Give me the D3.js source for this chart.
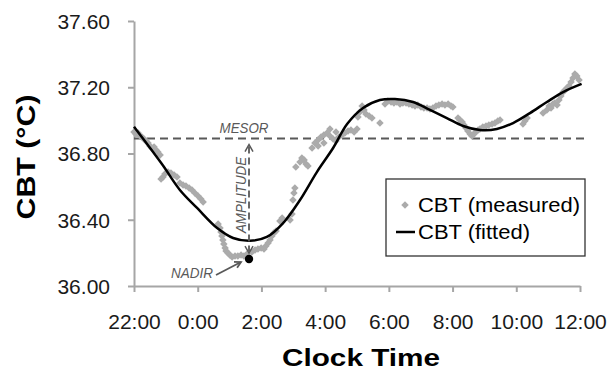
<!DOCTYPE html>
<html><head><meta charset="utf-8">
<script src="https://cdn.jsdelivr.net/npm/d3@7"></script>
<style>
html,body{margin:0;padding:0;background:#fff;}
text{font-family:"Liberation Sans",Arial,sans-serif;}
</style></head>
<body>
<svg id="chart" width="610" height="370"></svg>
<script>
// ---- data ----
const xTickValues = [22, 24, 26, 28, 30, 32, 34, 36];
const xTickLabels = ["22:00", "0:00", "2:00", "4:00", "6:00", "8:00", "10:00", "12:00"];
const yTickValues = [36.0, 36.4, 36.8, 37.2, 37.6];

const measuredTime = [22.00,22.06,22.13,22.19,22.25,22.31,22.38,22.44,22.50,22.56,22.63,22.69,22.75,22.82,
 22.85,22.91,22.97,23.07,23.16,23.26,23.35,23.44,23.54,23.63,23.73,23.82,23.91,24.01,24.10,24.17,
 24.64,24.70,24.73,24.76,24.79,24.82,24.86,24.89,24.95,25.01,25.08,25.17,25.26,25.36,25.45,25.55,
 25.70,25.80,25.89,25.99,26.08,26.14,26.21,26.27,26.33,26.39,26.46,26.58,26.65,26.90,26.96,26.99,27.02,27.05,
 27.08,27.21,27.27,27.34,27.40,27.46,27.59,27.68,27.78,27.87,27.96,28.06,28.15,28.25,28.34,28.43,28.53,28.62,
 28.72,28.81,28.91,29.00,27.78,27.96,28.15,28.34,
 29.03,29.09,29.16,29.22,29.28,29.38,29.47,29.72,
 29.88,29.97,30.07,30.16,30.25,30.35,30.44,30.54,30.63,30.73,30.82,30.91,31.01,31.10,31.20,31.29,31.38,31.48,
 31.57,31.67,31.76,31.86,31.95,32.01,
 32.17,32.23,32.30,32.36,32.42,32.48,32.55,32.61,32.67,32.73,32.80,32.86,32.95,33.05,33.14,33.24,33.33,33.42,33.49,
 34.21,34.27,34.34,34.84,34.96,35.03,35.09,35.15,35.21,35.28,35.34,35.40,35.47,35.53,35.59,35.65,35.72,35.78,35.84,35.90,35.97];
const measuredCBT = [36.930,36.918,36.924,36.906,36.900,36.888,36.875,36.863,36.845,36.833,36.839,36.821,36.809,36.791,
 36.646,36.658,36.676,36.688,36.682,36.670,36.658,36.622,36.610,36.604,36.592,36.580,36.561,36.543,36.525,36.507,
 36.374,36.350,36.326,36.302,36.278,36.254,36.229,36.211,36.199,36.187,36.175,36.181,36.181,36.187,36.181,36.193,
 36.205,36.217,36.223,36.229,36.223,36.241,36.260,36.278,36.302,36.320,36.332,36.392,36.411,36.398,36.435,36.519,36.561,36.592,
 36.718,36.749,36.773,36.761,36.737,36.725,36.833,36.863,36.881,36.900,36.912,36.924,36.906,36.888,36.875,36.900,36.912,36.924,
 36.936,36.942,36.930,36.948,36.845,36.863,36.948,36.930,
 37.020,37.051,37.087,37.063,37.038,37.026,37.014,36.984,
 37.099,37.117,37.111,37.105,37.111,37.099,37.105,37.105,37.099,37.093,37.087,37.093,37.081,37.075,37.075,37.069,37.075,37.087,
 37.093,37.099,37.093,37.099,37.087,37.081,
 37.014,37.002,36.990,36.972,36.954,36.936,36.918,36.906,36.918,36.930,36.942,36.948,36.960,36.966,36.972,36.978,36.984,36.996,37.002,
 36.978,36.996,37.014,37.044,37.063,37.087,37.075,37.099,37.105,37.093,37.123,37.147,37.171,37.183,37.196,37.208,37.232,37.256,37.280,37.268,37.244];

const fittedTime = [22.00,22.41,22.91,23.44,23.98,24.61,25.11,25.64,26.17,26.68,27.21,27.74,28.25,28.69,29.19,29.72,
 30.19,30.76,31.29,31.82,32.33,32.86,33.39,33.90,34.43,34.96,35.47,36.05];
const fittedCBT = [36.962,36.857,36.727,36.580,36.471,36.350,36.290,36.273,36.296,36.380,36.519,36.688,36.833,36.978,37.075,37.123,
 37.129,37.111,37.063,37.014,36.966,36.942,36.948,36.984,37.044,37.111,37.171,37.220];

const mesorValue = 36.89;
const nadirTime = 25.61;
const nadirValue = 36.163;

const seriesNames = ["CBT (measured)", "CBT (fitted)"];

// ---- chart ----
const svg = d3.select("#chart");
const x = d3.scaleLinear().domain([22, 36]).range([134, 580]);
const y = d3.scaleLinear().domain([36.0, 37.6]).range([286, 21]);
const axisColor = "#a6a6a6";
const annColor = "#595959";

// axes
const yAxis = svg.append("g").attr("transform", "translate(134,0)")
  .call(d3.axisLeft(y).tickValues(yTickValues).tickSize(6).tickSizeOuter(0).tickPadding(18).tickFormat(d3.format(".2f")));
const xAxis = svg.append("g").attr("transform", "translate(0,286)")
  .call(d3.axisBottom(x).tickValues(xTickValues).tickSize(6).tickSizeOuter(0).tickPadding(22)
    .tickFormat((d, i) => xTickLabels[i]));
[yAxis, xAxis].forEach(g => {
  g.select(".domain").attr("stroke", axisColor).attr("stroke-width", 2);
  g.selectAll(".tick line").attr("stroke", axisColor).attr("stroke-width", 2);
  g.selectAll(".tick text").attr("fill", "#1a1a1a").style("font-size", "21px")
    .style("font-family", "'Liberation Sans', Arial, sans-serif");
});
yAxis.selectAll(".tick text").attr("dy", "0.35em");
xAxis.selectAll(".tick text").attr("dy", "0.71em");

// mesor line
svg.append("line")
  .attr("x1", x(22)).attr("x2", 588).attr("y1", y(mesorValue)).attr("y2", y(mesorValue))
  .attr("stroke", annColor).attr("stroke-width", 2).attr("stroke-dasharray", "8,5");

// measured points
const measured = measuredTime.map((t, i) => [t, measuredCBT[i]]);
const sq = d3.symbol().type(d3.symbolSquare).size(28);
svg.append("g").selectAll("path").data(measured).join("path")
  .attr("d", sq)
  .attr("transform", d => `translate(${x(d[0])},${y(d[1])}) rotate(45)`)
  .attr("fill", "#ababab");

// fitted line
const fitted = fittedTime.map((t, i) => [t, fittedCBT[i]]);
svg.append("path").datum(fitted)
  .attr("d", d3.line().x(d => x(d[0])).y(d => y(d[1])).curve(d3.curveCatmullRom.alpha(0.5)))
  .attr("fill", "none").attr("stroke", "#000").attr("stroke-width", 2.5);

// amplitude arrow
const ax = x(nadirTime);
const topY = y(mesorValue) + 6, botY = y(nadirValue) - 6;
svg.append("line").attr("x1", ax).attr("x2", ax).attr("y1", topY + 2).attr("y2", botY - 2)
  .attr("stroke", annColor).attr("stroke-width", 1.8).attr("stroke-dasharray", "7,4");
svg.append("path").attr("d", `M${ax-4},${topY+7}L${ax},${topY}L${ax+4},${topY+7}`)
  .attr("fill", "none").attr("stroke", annColor).attr("stroke-width", 1.5);
svg.append("path").attr("d", `M${ax-4},${botY-7}L${ax},${botY}L${ax+4},${botY-7}`)
  .attr("fill", "none").attr("stroke", annColor).attr("stroke-width", 1.5);

// nadir dot
svg.append("circle").attr("cx", x(nadirTime)).attr("cy", y(nadirValue)).attr("r", 4.2).attr("fill", "#000");

// labels
svg.append("text").attr("x", 244).attr("y", y(mesorValue) - 6).attr("text-anchor", "middle")
  .attr("textLength", 49).attr("lengthAdjust", "spacingAndGlyphs")
  .style("font-size", "14px").style("font-style", "italic").attr("fill", annColor).text("MESOR");
svg.append("text").attr("transform", `translate(${ax - 3.5},195) rotate(-90)`).attr("text-anchor", "middle")
  .attr("textLength", 76).attr("lengthAdjust", "spacingAndGlyphs")
  .style("font-size", "14px").style("font-style", "italic").attr("fill", annColor).text("AMPLITUDE");
svg.append("text").attr("x", 213).attr("y", 278).attr("text-anchor", "end")
  .attr("textLength", 42).attr("lengthAdjust", "spacingAndGlyphs")
  .style("font-size", "14px").style("font-style", "italic").attr("fill", annColor).text("NADIR");
// nadir arrow
const n1 = [216, 275], n2 = [x(nadirTime) - 8, y(nadirValue) + 3];
svg.append("line").attr("x1", n1[0]).attr("y1", n1[1]).attr("x2", n2[0]).attr("y2", n2[1])
  .attr("stroke", annColor).attr("stroke-width", 1.8);
{
  const ang = Math.atan2(n2[1] - n1[1], n2[0] - n1[0]);
  const L = 7, w = 0.5;
  const p1 = [n2[0] - L * Math.cos(ang - w), n2[1] - L * Math.sin(ang - w)];
  const p2 = [n2[0] - L * Math.cos(ang + w), n2[1] - L * Math.sin(ang + w)];
  svg.append("path").attr("d", `M${p1}L${n2}L${p2}`).attr("fill", "none").attr("stroke", annColor).attr("stroke-width", 1.8);
}

// axis titles
svg.append("text").attr("x", 361).attr("y", 366).attr("text-anchor", "middle")
  .attr("textLength", 158).attr("lengthAdjust", "spacingAndGlyphs")
  .style("font-size", "24px").style("font-weight", "bold").attr("fill", "#000").text("Clock Time");
svg.append("text").attr("transform", "translate(35,157) rotate(-90)").attr("text-anchor", "middle")
  .attr("textLength", 125).attr("lengthAdjust", "spacingAndGlyphs")
  .style("font-size", "25px").style("font-weight", "bold").attr("fill", "#000").text("CBT (°C)");

// legend
const lg = svg.append("g");
lg.append("rect").attr("x", 386).attr("y", 179).attr("width", 199).attr("height", 77)
  .attr("fill", "#fff").attr("stroke", "#333").attr("stroke-width", 1.3);
lg.append("path").attr("d", sq).attr("transform", "translate(405,205) rotate(45)").attr("fill", "#ababab");
lg.append("line").attr("x1", 396).attr("x2", 415).attr("y1", 232).attr("y2", 232).attr("stroke", "#000").attr("stroke-width", 2.5);
const legendLens = [162, 112];
seriesNames.forEach((s, i) => {
  lg.append("text").attr("x", 418).attr("y", 205 + i * 27).attr("dy", "0.35em")
    .attr("textLength", legendLens[i]).attr("lengthAdjust", "spacingAndGlyphs")
    .style("font-size", "20px").attr("fill", "#000").text(s);
});
</script>
</body></html>
